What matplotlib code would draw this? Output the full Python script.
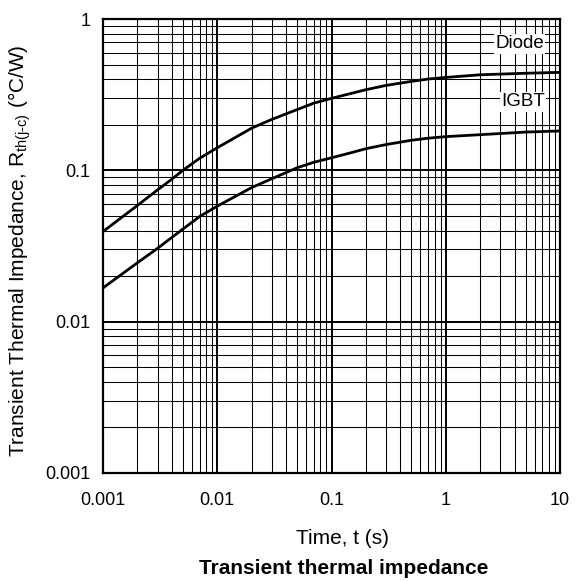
import matplotlib
matplotlib.use("Agg")
import matplotlib.pyplot as plt
from matplotlib.ticker import LogLocator, NullFormatter, FixedLocator, FixedFormatter

plt.rcParams['font.family'] = ['Liberation Sans', 'DejaVu Sans']
plt.rcParams['mathtext.fontset'] = 'custom'
plt.rcParams['mathtext.rm'] = 'Liberation Sans'

# curves
t_diode = [0.001, 0.002, 0.003, 0.004, 0.005, 0.007, 0.01, 0.02, 0.03, 0.05, 0.07, 0.1,
           0.15, 0.2, 0.3, 0.5, 0.7, 1, 2, 5, 10]
z_diode = [0.0394, 0.0586, 0.0742, 0.0873, 0.100, 0.120, 0.141, 0.190, 0.217, 0.252, 0.278, 0.299,
           0.323, 0.341, 0.364, 0.387, 0.401, 0.411, 0.428, 0.438, 0.444]

t_igbt = [0.001, 0.002, 0.003, 0.004, 0.005, 0.007, 0.01, 0.02, 0.03, 0.05, 0.07, 0.1,
          0.15, 0.2, 0.3, 0.5, 0.7, 1, 2, 5, 10]
z_igbt = [0.0167, 0.0245, 0.0305, 0.036, 0.0409, 0.0495, 0.058, 0.0769, 0.088, 0.104, 0.113, 0.121,
          0.131, 0.139, 0.148, 0.158, 0.163, 0.167, 0.172, 0.179, 0.182]

x_ticks = [0.001, 0.01, 0.1, 1, 10]
x_labels = ["0.001", "0.01", "0.1", "1", "10"]
y_ticks = [0.001, 0.01, 0.1, 1]
y_labels = ["0.001", "0.01", "0.1", "1"]

fig = plt.figure(figsize=(5.79, 5.81), dpi=100)
ax = fig.add_axes([103 / 579, 1 - 473 / 581, (560 - 103) / 579, (473 - 19) / 581])

ax.set_xscale("log")
ax.set_yscale("log")
ax.set_xlim(0.001, 10)
ax.set_ylim(0.001, 1)

ax.plot(t_diode, z_diode, color="black", lw=2.0, zorder=3)
ax.plot(t_igbt, z_igbt, color="black", lw=2.0, zorder=3)

ax.xaxis.set_major_locator(FixedLocator(x_ticks))
ax.xaxis.set_major_formatter(FixedFormatter(x_labels))
ax.yaxis.set_major_locator(FixedLocator(y_ticks))
ax.yaxis.set_major_formatter(FixedFormatter(y_labels))
ax.xaxis.set_minor_locator(LogLocator(base=10, subs=range(2, 10)))
ax.yaxis.set_minor_locator(LogLocator(base=10, subs=range(2, 10)))
ax.xaxis.set_minor_formatter(NullFormatter())
ax.yaxis.set_minor_formatter(NullFormatter())

ax.grid(which="major", color="black", lw=1.4)
ax.grid(which="minor", color="black", lw=0.75)
ax.set_axisbelow(True)
ax.tick_params(which="both", length=0, labelsize=13)
ax.tick_params(axis="x", pad=14)
ax.tick_params(axis="y", pad=9)
for s in ax.spines.values():
    s.set_linewidth(1.6)

ax.text(4.44, 0.684, "Diode", fontsize=13.5, ha="center", va="center",
        bbox=dict(facecolor="white", edgecolor="none", pad=1), zorder=4)
ax.text(4.72, 0.284, "IGBT", fontsize=13.5, ha="center", va="center",
        bbox=dict(facecolor="white", edgecolor="none", pad=1), zorder=4)

fig.text(20 / 579, 1 - 251 / 581,
         r"Transient Thermal Impedance, R$_{\mathrm{th(j{\text{-}}c)}}$ (°C/W)",
         fontsize=15, rotation=90, ha="center", va="center")

fig.text(343 / 579, 1 - 538 / 581, "Time, t (s)", fontsize=15, ha="center", va="center")
fig.text(344 / 579, 1 - 568 / 581, "Transient thermal impedance", fontsize=15,
         fontweight="bold", ha="center", va="center")

fig.savefig("out.png", dpi=100)
